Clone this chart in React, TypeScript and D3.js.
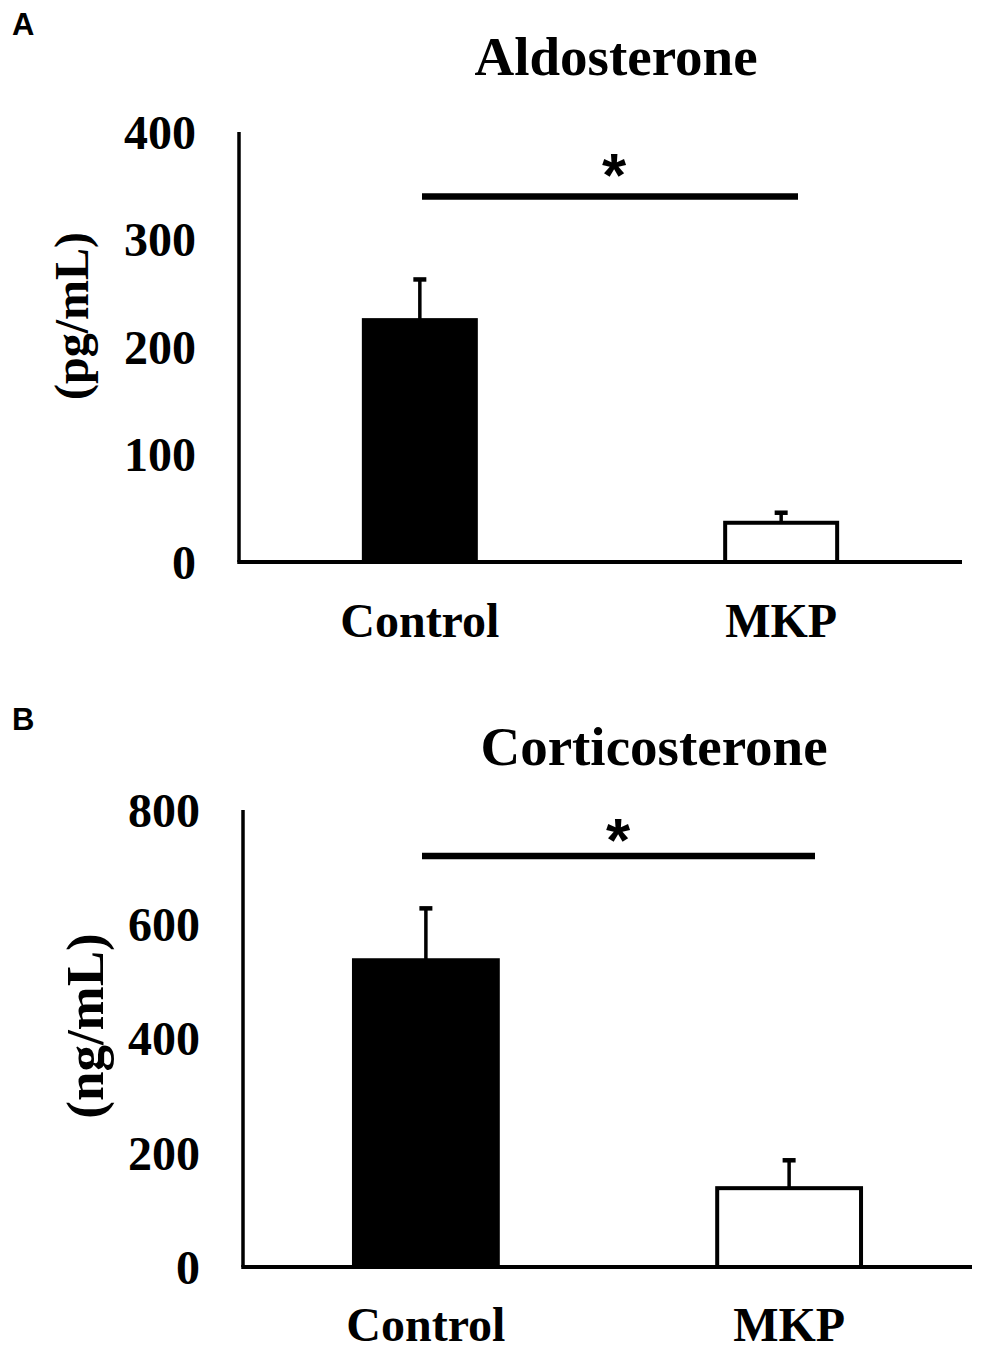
import React from "react";
import * as d3 from "d3";

const categories = ["Control", "MKP"];
const aldoMeans = [225, 36.5];
const aldoErrors = [39, 10.5];
const aldoTicks = [0, 100, 200, 300, 400];
const cortiMeans = [537, 138];
const cortiErrors = [93, 51];
const cortiTicks = [0, 200, 400, 600, 800];

const SERIF = "'Liberation Serif', 'Times New Roman', serif";
const SANS = "'Liberation Sans', Arial, sans-serif";
const fills = ["#000", "#fff"];

type PanelProps = {
  letter: string;
  letterY: number;
  title: string;
  titleX: number;
  titleY: number;
  yLabel: string;
  yLabelX: number;
  yLabelY: number;
  yLabelSize: number;
  means: number[];
  errors: number[];
  ticks: number[];
  yMax: number;
  axisX: number;
  axisRight: number;
  yTop: number;
  yBottom: number;
  padInner: number;
  padOuter: number;
  sigY: number;
  sigX1: number;
  sigX2: number;
  starX: number;
  starY: number;
  catY: number;
};

function Panel(p: PanelProps) {
  const x = d3
    .scaleBand<string>()
    .domain(categories)
    .range([p.axisX, p.axisRight])
    .paddingInner(p.padInner)
    .paddingOuter(p.padOuter);
  const y = d3.scaleLinear().domain([0, p.yMax]).range([p.yBottom, p.yTop]);
  const bw = x.bandwidth();
  return (
    <g>
      <text x={12} y={p.letterY} fontFamily={SANS} fontWeight="bold" fontSize={31}>
        {p.letter}
      </text>
      <text
        x={p.titleX}
        y={p.titleY}
        textAnchor="middle"
        fontFamily={SERIF}
        fontWeight="bold"
        fontSize={55}
      >
        {p.title}
      </text>
      {p.ticks.map((t) => (
        <text
          key={t}
          x={p.axisX - 43}
          y={y(t)}
          dy="0.35em"
          textAnchor="end"
          fontFamily={SERIF}
          fontWeight="bold"
          fontSize={48}
        >
          {t}
        </text>
      ))}
      <text
        transform={`translate(${p.yLabelX},${p.yLabelY}) rotate(-90)`}
        textAnchor="middle"
        fontFamily={SERIF}
        fontWeight="bold"
        fontSize={p.yLabelSize}
      >
        {p.yLabel}
      </text>
      {categories.map((c, i) => {
        const x0 = x(c)!;
        const cx = x0 + bw / 2;
        const top = y(p.means[i]);
        const errTop = y(p.means[i] + p.errors[i]);
        return (
          <g key={c}>
            <line x1={cx} x2={cx} y1={top} y2={errTop} stroke="#000" strokeWidth={3.5} />
            <rect x={cx - 6.5} y={errTop - 1} width={13} height={4.5} fill="#000" />
            <rect
              x={x0 + 2}
              y={top}
              width={bw - 4}
              height={p.yBottom - top}
              fill={fills[i]}
              stroke="#000"
              strokeWidth={4}
            />
            <text
              x={cx}
              y={p.catY}
              textAnchor="middle"
              fontFamily={SERIF}
              fontWeight="bold"
              fontSize={48}
            >
              {c}
            </text>
          </g>
        );
      })}
      <line
        x1={p.axisX}
        x2={p.axisX}
        y1={p.yTop}
        y2={p.yBottom}
        stroke="#000"
        strokeWidth={3.5}
      />
      <line
        x1={p.axisX - 1.75}
        x2={p.axisRight}
        y1={p.yBottom}
        y2={p.yBottom}
        stroke="#000"
        strokeWidth={4}
      />
      <line x1={p.sigX1} x2={p.sigX2} y1={p.sigY} y2={p.sigY} stroke="#000" strokeWidth={6.5} />
      <text
        x={p.starX}
        y={p.starY}
        textAnchor="middle"
        fontFamily={SANS}
        fontWeight="bold"
        fontSize={62}
      >
        *
      </text>
    </g>
  );
}

export default function App() {
  return (
    <svg
      width={1004}
      height={1364}
      style={{ position: "absolute", left: 0, top: 0, background: "#fff" }}
    >
      <rect width={1004} height={1364} fill="#fff" />
      <Panel
        letter="A"
        letterY={35}
        title="Aldosterone"
        titleX={616}
        titleY={75}
        yLabel="(pg/mL)"
        yLabelX={88}
        yLabelY={316}
        yLabelSize={48}
        means={aldoMeans}
        errors={aldoErrors}
        ticks={aldoTicks}
        yMax={400}
        axisX={239}
        axisRight={962}
        yTop={132}
        yBottom={562}
        padInner={0.679}
        padOuter={0.34}
        sigY={196.5}
        sigX1={422}
        sigX2={798}
        starX={614}
        starY={196}
        catY={637}
      />
      <Panel
        letter="B"
        letterY={730}
        title="Corticosterone"
        titleX={654}
        titleY={765}
        yLabel="(ng/mL)"
        yLabelX={103}
        yLabelY={1026}
        yLabelSize={53}
        means={cortiMeans}
        errors={cortiErrors}
        ticks={cortiTicks}
        yMax={800}
        axisX={243}
        axisRight={972}
        yTop={810}
        yBottom={1267}
        padInner={0.593}
        padOuter={0.3}
        sigY={856}
        sigX1={422}
        sigX2={815}
        starX={618}
        starY={861}
        catY={1341}
      />
    </svg>
  );
}
